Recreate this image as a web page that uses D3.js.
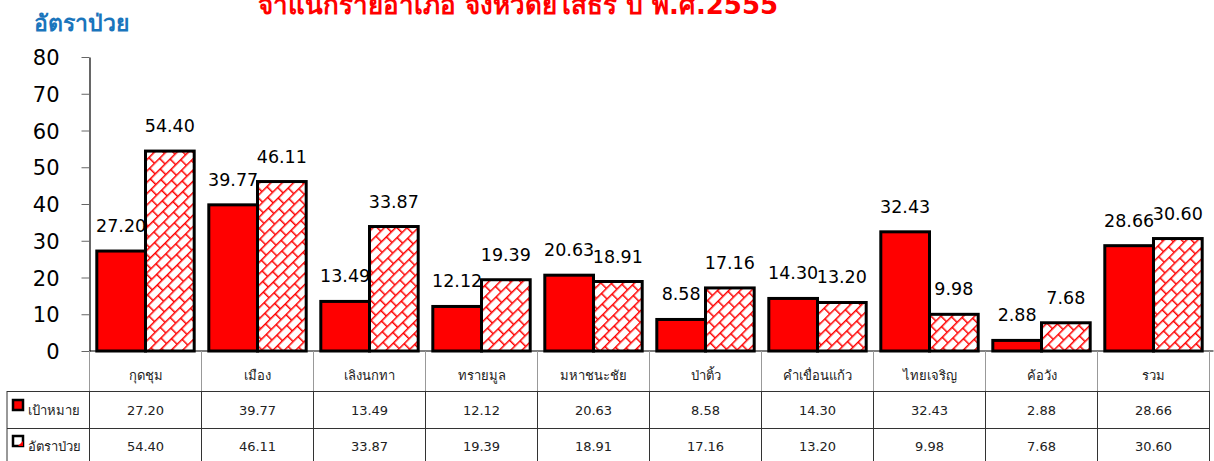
<!DOCTYPE html>
<html><head><meta charset="utf-8">
<script src="https://cdn.jsdelivr.net/npm/d3@7"></script>
<style>body{margin:0;background:#fff;overflow:hidden}svg{display:block}</style>
</head><body>
<script>
const categories = ["กุดชุม","เมือง","เลิงนกทา","ทรายมูล","มหาชนะชัย","ป่าติ้ว","คำเขื่อนแก้ว","ไทยเจริญ","ค้อวัง","รวม"];
const targetValues = [27.20,39.77,13.49,12.12,20.63,8.58,14.30,32.43,2.88,28.66];
const rateValues = [54.40,46.11,33.87,19.39,18.91,17.16,13.20,9.98,7.68,30.60];
const seriesNames = ["เป้าหมาย","อัตราป่วย"];
const yTicks = [0,10,20,30,40,50,60,70,80];
const titleText = "จำแนกรายอำเภอ จังหวัดยโสธร ปี พ.ศ.2555";
const yTitle = "อัตราป่วย";

const W = 1214, H = 461;
const svg = d3.select("body").append("svg").attr("width", W).attr("height", H);
const FONT = "Tahoma, 'DejaVu Sans', 'Noto Sans', sans-serif";

// pattern (diagonal brick)
const defs = svg.append("defs");
const PW = 14, PH = 16;
const pat = defs.append("pattern").attr("id","brick").attr("patternUnits","userSpaceOnUse")
  .attr("width",PW).attr("height",PH).attr("patternTransform","rotate(-45)");
pat.append("rect").attr("width",PW).attr("height",PH).attr("fill","#fff");
const pg = pat.append("g").attr("stroke","#ff0000").attr("stroke-width",1.5).attr("fill","none");
pg.append("line").attr("x1",0).attr("y1",0.75).attr("x2",PW).attr("y2",0.75);
pg.append("line").attr("x1",0).attr("y1",PH/2+0.75).attr("x2",PW).attr("y2",PH/2+0.75);
pg.append("line").attr("x1",0.75).attr("y1",0).attr("x2",0.75).attr("y2",PH/2+0.75);
pg.append("line").attr("x1",PW/2+0.75).attr("y1",PH/2+0.75).attr("x2",PW/2+0.75).attr("y2",PH);

const x0 = 89.5, x1 = 1209.5, yTop = 57, yBot = 351;
const x = d3.scaleBand().domain(categories).range([x0, x1]).paddingInner(0).paddingOuter(0);
const y = d3.scaleLinear().domain([0,80]).range([yBot, yTop]);
const inner = d3.scaleBand().domain([0,1]).range([0, x.bandwidth()]).paddingInner(0).paddingOuter(0.15);

// title
svg.append("text").attr("x", 518).attr("y", 14).attr("text-anchor","middle")
  .attr("font-family",FONT).attr("font-weight","bold").attr("font-size",26).attr("fill","#ff0000").text(titleText);
svg.append("text").attr("x", 34).attr("y", 31)
  .attr("font-family",FONT).attr("font-weight","bold").attr("font-size",23).attr("fill","#1a75bc").text(yTitle);

// y axis
const yAxis = d3.axisLeft(y).tickValues(yTicks).tickSize(8).tickPadding(22).tickSizeOuter(0);
const ga = svg.append("g").attr("transform",`translate(${x0},0)`).call(yAxis);
ga.select(".domain").attr("stroke","#000").attr("stroke-width",1.2);
ga.selectAll(".tick line").attr("stroke","#666");
ga.selectAll(".tick text").attr("font-family",FONT).attr("font-size",21).attr("fill","#000").attr("dy","0.36em");

// bars
const series = [targetValues, rateValues];
series.forEach((vals, si) => {
  svg.append("g").selectAll("rect").data(vals).join("rect")
    .attr("x",(d,i)=>x(categories[i]) + inner(si))
    .attr("y",d=>y(d))
    .attr("width",inner.bandwidth())
    .attr("height",d=>yBot - y(d))
    .attr("fill", si===0 ? "#ff0000" : "url(#brick)")
    .attr("stroke","#000").attr("stroke-width",3);
});

// labels
series.forEach((vals, si) => {
  const g = svg.append("g");
  vals.forEach((d,i) => {
    const cx = x(categories[i]) + inner(si) + inner.bandwidth()/2;
    const by = y(d) - 19;
    const t = g.append("text").attr("x",cx).attr("y",by).attr("text-anchor","middle")
      .attr("font-family",FONT).attr("font-size",17.5).attr("fill","#000").text(d.toFixed(2));
    if (si===1) {
      const bb = t.node().getBBox();
      g.insert("rect","text:last-of-type").attr("x",bb.x+1).attr("y",bb.y).attr("width",bb.width-2).attr("height",bb.height).attr("fill","#fff");
      t.raise();
    }
  });
});

// x axis line
svg.append("line").attr("x1",x0).attr("x2",x1+4).attr("y1",yBot).attr("y2",yBot).attr("stroke","#000").attr("stroke-width",1.2);

// table
const rowY = [351, 391, 428, 468];
const tblLeft = 7;
const grid = svg.append("g");
x.domain().concat(["__end"]).forEach((c,i) => {
  const xx = c==="__end" ? x1 : x(c);
  grid.append("line").attr("x1",xx).attr("x2",xx).attr("y1",rowY[0]).attr("y2",rowY[1]).attr("stroke","#999").attr("stroke-width",1);
  grid.append("line").attr("x1",xx).attr("x2",xx).attr("y1",rowY[1]).attr("y2",rowY[3]).attr("stroke","#333").attr("stroke-width",1);
});
grid.append("line").attr("x1",tblLeft).attr("x2",tblLeft).attr("y1",rowY[1]).attr("y2",rowY[3]).attr("stroke","#333");
[rowY[1], rowY[2]].forEach(yy => {
  grid.append("line").attr("x1",tblLeft).attr("x2",x1).attr("y1",yy+0.5).attr("y2",yy+0.5).attr("stroke","#333");
});

svg.append("g").selectAll("text").data(categories).join("text")
  .attr("x",c=>x(c)+x.bandwidth()/2).attr("y",380).attr("text-anchor","middle")
  .attr("font-family",FONT).attr("font-size",13).attr("fill","#222").text(c=>c);

series.forEach((vals, si) => {
  const ty = si===0 ? 415 : 451;
  svg.append("g").selectAll("text").data(vals).join("text")
    .attr("x",(d,i)=>x(categories[i])+x.bandwidth()/2).attr("y",ty).attr("text-anchor","middle")
    .attr("font-family",FONT).attr("font-size",13).attr("fill","#222").text(d=>d.toFixed(2));
  const ky = si===0 ? 400 : 436;
  svg.append("rect").attr("x",13).attr("y",ky).attr("width",10).attr("height",10)
    .attr("fill", si===0 ? "#ff0000" : "#fff").attr("stroke","#000").attr("stroke-width",2.5);
  if (si===1) svg.append("path").attr("d",`M${18},${ky+10} L${23},${ky+10} L${23},${ky+5} Z`).attr("fill","#ff0000");
  svg.append("text").attr("x",28).attr("y",ty).attr("font-family",FONT).attr("font-size",13).attr("fill","#222").text(seriesNames[si]);
});
</script>
</body></html>
